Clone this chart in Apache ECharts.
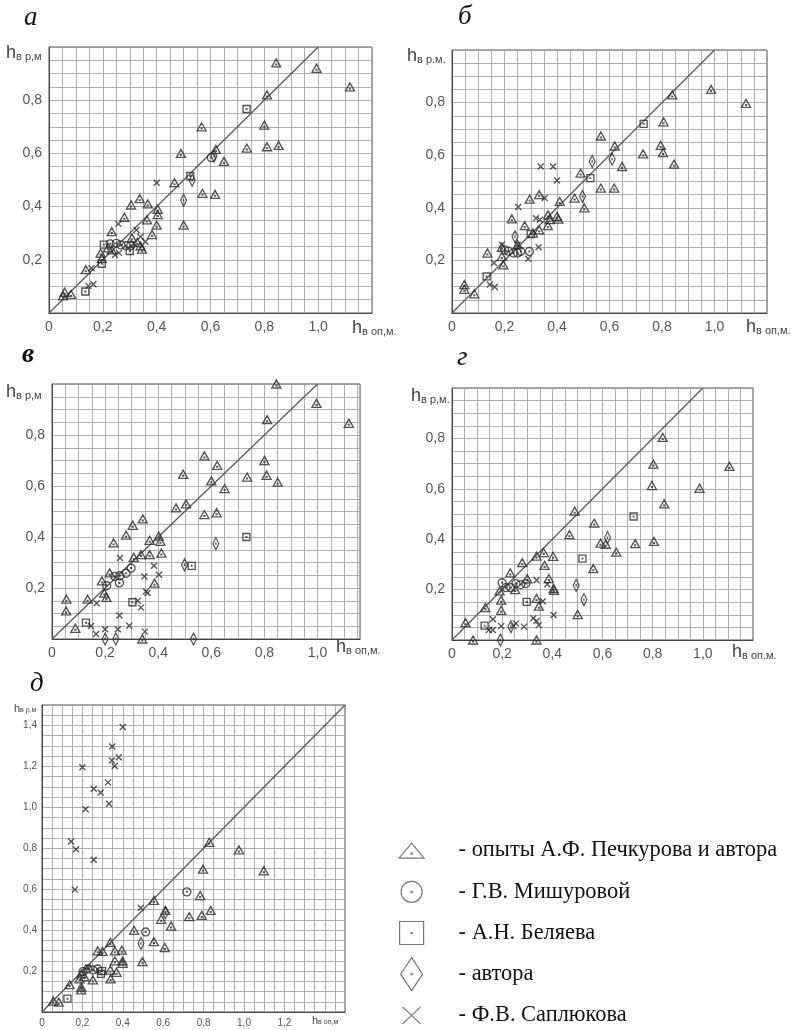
<!DOCTYPE html>
<html><head><meta charset="utf-8">
<script src="https://cdn.jsdelivr.net/npm/echarts@6/dist/echarts.min.js"></script>
<style>html,body{margin:0;padding:0;background:#fff}#c{width:793px;height:1030px}</style>
</head><body><div id="c"></div>
<script>
// ---------- series names ----------
const seriesNames = ['опыты А.Ф. Печкурова и автора', 'Г.В. Мишуровой', 'А.Н. Беляева', 'автора', 'Ф.В. Саплюкова'];

// ---------- panel а ----------
const aTri = [[0.844,0.94],[0.994,0.92],[1.118,0.85],[0.81,0.82],[0.567,0.70],[0.80,0.706],[0.735,0.62],[0.81,0.625],[0.853,0.63],[0.49,0.60],[0.62,0.615],[0.65,0.57],[0.466,0.49],[0.57,0.45],[0.617,0.446],[0.50,0.33],[0.337,0.43],[0.305,0.406],[0.367,0.41],[0.404,0.39],[0.404,0.37],[0.40,0.33],[0.364,0.35],[0.383,0.295],[0.28,0.36],[0.233,0.306],[0.345,0.24],[0.34,0.252],[0.308,0.282],[0.137,0.163],[0.058,0.078],[0.082,0.07],[0.052,0.064],[0.192,0.225],[0.196,0.205],[0.233,0.237],[0.22,0.245],[0.328,0.265]];
const aCir = [[0.227,0.26],[0.25,0.262],[0.267,0.256],[0.286,0.253],[0.304,0.253],[0.603,0.584]];
const aSq = [[0.204,0.257],[0.30,0.233],[0.135,0.081],[0.734,0.767],[0.525,0.515],[0.196,0.185]];
const aDia = [[0.50,0.424],[0.532,0.499],[0.613,0.59]];
const aCross = [[0.40,0.49],[0.258,0.335],[0.325,0.312],[0.158,0.168],[0.146,0.102],[0.165,0.108],[0.245,0.218],[0.26,0.226],[0.358,0.268],[0.34,0.287],[0.315,0.262]];

// ---------- panel б ----------
const bTri = [[0.987,0.85],[1.12,0.797],[0.839,0.829],[0.806,0.727],[0.567,0.673],[0.795,0.637],[0.804,0.61],[0.728,0.605],[0.846,0.566],[0.62,0.635],[0.648,0.557],[0.567,0.475],[0.618,0.475],[0.49,0.532],[0.467,0.437],[0.504,0.40],[0.41,0.424],[0.296,0.433],[0.332,0.45],[0.228,0.358],[0.277,0.332],[0.365,0.332],[0.332,0.316],[0.40,0.367],[0.405,0.357],[0.372,0.355],[0.366,0.373],[0.135,0.228],[0.19,0.25],[0.19,0.215],[0.196,0.183],[0.047,0.108],[0.047,0.09],[0.085,0.073],[0.308,0.304],[0.25,0.26]];
const bCir = [[0.2,0.24],[0.215,0.235],[0.234,0.228],[0.25,0.228],[0.262,0.234],[0.295,0.234]];
const bSq = [[0.527,0.513],[0.73,0.719],[0.30,0.30],[0.132,0.139]];
const bDia = [[0.534,0.576],[0.497,0.443],[0.24,0.29],[0.61,0.585]];
const bCross = [[0.338,0.557],[0.385,0.557],[0.40,0.504],[0.252,0.403],[0.353,0.437],[0.32,0.36],[0.335,0.355],[0.33,0.25],[0.29,0.206],[0.19,0.26],[0.16,0.19],[0.144,0.108],[0.163,0.099],[0.25,0.26]];

// ---------- panel в ----------
const vTri = [[0.845,1.0],[0.996,0.924],[1.118,0.846],[0.81,0.86],[0.574,0.718],[0.622,0.681],[0.80,0.70],[0.735,0.635],[0.808,0.642],[0.85,0.615],[0.60,0.62],[0.494,0.646],[0.65,0.59],[0.467,0.514],[0.505,0.53],[0.574,0.488],[0.62,0.495],[0.342,0.471],[0.304,0.446],[0.279,0.407],[0.232,0.377],[0.368,0.387],[0.402,0.403],[0.408,0.383],[0.368,0.331],[0.335,0.331],[0.412,0.337],[0.308,0.32],[0.386,0.219],[0.217,0.259],[0.188,0.228],[0.197,0.18],[0.205,0.163],[0.054,0.156],[0.053,0.11],[0.134,0.156],[0.088,0.042],[0.34,0.0]];
const vCir = [[0.298,0.278],[0.279,0.258],[0.256,0.248],[0.237,0.245],[0.254,0.22],[0.206,0.209]];
const vSq = [[0.303,0.144],[0.128,0.064],[0.526,0.287],[0.732,0.40]];
const vDia = [[0.617,0.374],[0.499,0.291],[0.2,0.0],[0.24,0.0],[0.533,0.0]];
const vCross = [[0.256,0.318],[0.384,0.287],[0.403,0.252],[0.348,0.245],[0.354,0.186],[0.36,0.18],[0.323,0.15],[0.335,0.123],[0.254,0.092],[0.291,0.052],[0.248,0.038],[0.2,0.038],[0.166,0.02],[0.147,0.051],[0.168,0.14],[0.35,0.029]];

// ---------- panel г ----------
const gTri = [[0.84,0.804],[0.803,0.698],[1.106,0.689],[0.797,0.613],[0.987,0.602],[0.846,0.54],[0.489,0.511],[0.567,0.464],[0.468,0.418],[0.592,0.384],[0.613,0.38],[0.73,0.382],[0.805,0.391],[0.655,0.349],[0.563,0.283],[0.366,0.347],[0.337,0.333],[0.403,0.332],[0.369,0.296],[0.28,0.307],[0.232,0.266],[0.30,0.243],[0.386,0.244],[0.405,0.204],[0.407,0.197],[0.19,0.195],[0.252,0.20],[0.337,0.165],[0.346,0.134],[0.196,0.158],[0.196,0.118],[0.133,0.129],[0.501,0.101],[0.054,0.069],[0.084,0.0],[0.337,0.0]];
const gCir = [[0.2,0.227],[0.215,0.208],[0.235,0.208],[0.255,0.224],[0.274,0.22],[0.294,0.224]];
const gSq = [[0.724,0.49],[0.52,0.323],[0.298,0.151],[0.13,0.057]];
const gDia = [[0.62,0.406],[0.495,0.217],[0.526,0.16],[0.235,0.053],[0.193,0.0]];
const gCross = [[0.337,0.237],[0.38,0.221],[0.362,0.154],[0.405,0.099],[0.147,0.04],[0.163,0.04],[0.163,0.082],[0.196,0.055],[0.245,0.055],[0.255,0.066],[0.287,0.053],[0.324,0.086],[0.337,0.075],[0.346,0.059]];

// ---------- panel д ----------
const dTri = [[0.975,0.792],[1.098,0.69],[0.797,0.698],[0.828,0.829],[0.783,0.569],[0.835,0.496],[0.791,0.472],[0.729,0.466],[0.554,0.545],[0.611,0.496],[0.59,0.453],[0.639,0.42],[0.456,0.399],[0.554,0.344],[0.608,0.315],[0.497,0.246],[0.338,0.34],[0.276,0.299],[0.299,0.296],[0.361,0.299],[0.395,0.302],[0.361,0.25],[0.399,0.25],[0.399,0.238],[0.338,0.205],[0.369,0.194],[0.34,0.162],[0.252,0.157],[0.186,0.162],[0.194,0.121],[0.194,0.108],[0.137,0.134],[0.056,0.053],[0.083,0.048],[0.194,0.186],[0.21,0.173]];
const dCir = [[0.717,0.587],[0.513,0.391],[0.203,0.197],[0.227,0.21],[0.252,0.205],[0.276,0.21]];
const dSq = [[0.126,0.065],[0.297,0.2],[0.292,0.186]];
const dDia = [[0.49,0.335],[0.611,0.485]];
const dCross = [[0.40,1.393],[0.348,1.297],[0.38,1.245],[0.346,1.229],[0.36,1.202],[0.20,1.196],[0.327,1.122],[0.256,1.091],[0.29,1.072],[0.332,1.018],[0.216,0.991],[0.144,0.833],[0.168,0.795],[0.256,0.744],[0.163,0.598],[0.227,0.218],[0.489,0.509]];

// ---------- reference line y = x ----------
const diag = [[0, 0], [1.0, 1.0]];
const diagD = [[0, 0], [1.5, 1.5]];

// ---------- axis ranges / tick labels ----------
const xMaxes = [1.2, 1.2, 1.16, 1.2, 1.5];
const yMaxes = [1.0, 1.0, 1.0, 1.0, 1.5];
const xLabelMax = [1.0, 1.0, 1.0, 1.0, 1.2];
const yLabelMax = [0.8, 0.8, 0.8, 0.8, 1.4];
const gridStep = 0.05;
const labelStep = 0.2;
const panelLetters = ['а', 'б', 'в', 'г', 'д'];
const yNames = ['в р,м', 'в р.м.', 'в р,м', 'в р,м.', 'в р,м'];
const xNames = ['в оп,м.', 'в оп,м.', 'в оп,м.', 'в оп.м.', 'в оп,м'];

const panelData = [
  [aTri, aCir, aSq, aDia, aCross],
  [bTri, bCir, bSq, bDia, bCross],
  [vTri, vCir, vSq, vDia, vCross],
  [gTri, gCir, gSq, gDia, gCross],
  [dTri, dCir, dSq, dDia, dCross]
];
const panelDiag = [diag, diag, diag, diag, diagD];

// ---------- layout (pixels) ----------
const grids = [
  {left: 49, top: 47, width: 323, height: 266},
  {left: 452, top: 50, width: 315, height: 263},
  {left: 52, top: 384, width: 308, height: 255},
  {left: 452, top: 388, width: 301, height: 252},
  {left: 42, top: 705, width: 303, height: 307}
];
const letterPos = [[24, 4], [458, 3], [22, 342], [457, 344], [30, 670]];
const yNamePos = [[6, 44], [407, 47], [6, 383], [411, 387], [14, 703]];
const xNamePos = [[352, 319], [746, 318], [336, 638], [732, 643], [312, 1015]];

// ---------- symbols ----------
const dot = ' M4.6,4.6 L5.4,4.6 L5.4,5.4 L4.6,5.4 Z';
const symTri = 'path://M0,9 L5,0 L10,9 Z M4.6,5.8 L5.4,5.8 L5.4,6.6 L4.6,6.6 Z';
const symCir = 'path://M5,0 A5,5 0 1,1 4.99,0 Z' + dot;
const symSq = 'path://M0,0 L10,0 L10,10 L0,10 Z' + dot;
const symDia = 'path://M5,0 L10,10 L5,20 L0,10 Z M4.6,9.6 L5.4,9.6 L5.4,10.4 L4.6,10.4 Z';
const symCross = 'path://M0,0 L10,10 M10,0 L0,10';
const symbols = [symTri, symCir, symSq, symDia, symCross];
const symSizes = [[9, 8], 8, 7, [6, 12], 6];
// legend icons drawn in a common 34x34 box (zero-length corner strokes fix the box)
const box = 'M0,0 L0,0 M34,34 L34,34 ';
const legendIcons = [
  'path://' + box + 'M4.5,24.5 L17,9.5 L29.5,24.5 Z M16.5,19.5 L17.5,19.5 L17.5,20.5 L16.5,20.5 Z',
  'path://' + box + 'M17,6.5 A10.5,10.5 0 1,1 16.99,6.5 Z M16.5,16.5 L17.5,16.5 L17.5,17.5 L16.5,17.5 Z',
  'path://' + box + 'M5,5.5 L29,5.5 L29,28.5 L5,28.5 Z M16.5,16.5 L17.5,16.5 L17.5,17.5 L16.5,17.5 Z',
  'path://' + box + 'M17,0.5 L28,17 L17,33.5 L6,17 Z M16.5,16.5 L17.5,16.5 L17.5,17.5 L16.5,17.5 Z',
  'path://' + box + 'M8,8.5 L26,25.5 M26,8.5 L8,25.5'
];

function fmtLabel(v, maxLab, skipZero) {
  const k = Math.round(v * 100);
  if (k % Math.round(labelStep * 100) !== 0) return '';
  if (v > maxLab + 1e-9) return '';
  if (k === 0) return skipZero ? '' : '0';
  return (k / 100).toFixed(1).replace('.', ',');
}

const option = {
  backgroundColor: '#fff',
  animation: false,
  grid: [], xAxis: [], yAxis: [], series: [], graphic: [],
  legend: {
    orient: 'vertical', left: 394, top: 833, height: 240, padding: 0,
    itemWidth: 84, itemHeight: 34, itemGap: 6,
    selectedMode: false,
    textStyle: {fontFamily: 'Liberation Serif', fontSize: 22.4, color: '#111', lineHeight: 24},
    formatter: n => '- ' + n,
    data: seriesNames.map((n, i) => ({
      name: n, icon: legendIcons[i],
      itemStyle: {color: 'transparent', borderColor: '#555', borderWidth: 1.2}
    }))
  }
};

for (let p = 0; p < 5; p++) {
  const small = p === 4;
  option.grid.push(Object.assign({show: true, borderColor: '#555', borderWidth: 1, containLabel: false}, grids[p]));
  option.xAxis.push({
    type: 'value', gridIndex: p, min: 0, max: xMaxes[p], interval: gridStep,
    axisLine: {show: true, lineStyle: {color: '#444', width: 1}},
    axisTick: {show: false},
    axisLabel: {
      formatter: v => fmtLabel(v, xLabelMax[p], false),
      color: '#555', fontFamily: 'Liberation Sans', fontSize: small ? 10 : 14, margin: small ? 6 : 7,
      showMaxLabel: false
    },
    splitLine: {show: true, lineStyle: {color: '#9c9c9c', width: 0.8}}
  });
  option.yAxis.push({
    type: 'value', gridIndex: p, min: 0, max: yMaxes[p], interval: gridStep,
    axisLine: {show: true, lineStyle: {color: '#444', width: 1}},
    axisTick: {show: false},
    axisLabel: {
      formatter: v => fmtLabel(v, yLabelMax[p], true),
      color: '#555', fontFamily: 'Liberation Sans', fontSize: small ? 10 : 14, margin: small ? 5 : 7,
      showMaxLabel: false
    },
    splitLine: {show: true, lineStyle: {color: '#9c9c9c', width: 0.8}}
  });
  option.series.push({
    type: 'line', xAxisIndex: p, yAxisIndex: p, data: panelDiag[p],
    symbol: 'none', silent: true,
    lineStyle: {color: '#555', width: 1.2}
  });
  panelData[p].forEach((d, s) => {
    option.series.push({
      type: 'scatter', name: seriesNames[s], xAxisIndex: p, yAxisIndex: p, data: d,
      symbol: symbols[s], symbolSize: symSizes[s], clip: false,
      itemStyle: {color: 'transparent', borderColor: '#2a2a2a', borderWidth: 1.35},
      z: 3
    });
  });
  option.graphic.push({
    type: 'text', left: letterPos[p][0], top: letterPos[p][1],
    style: {text: panelLetters[p], font: (p === 2 ? 'bold ' : '') + 'italic 27px "Liberation Serif"', fill: '#111'}
  });
  option.graphic.push({
    type: 'text', left: yNamePos[p][0], top: yNamePos[p][1],
    style: {
      text: '{h|h}{s|' + yNames[p] + '}',
      rich: {
        h: {fontFamily: 'Liberation Sans', fontSize: small ? 11 : 18, fill: '#444', verticalAlign: 'bottom'},
        s: {fontFamily: 'Liberation Sans', fontSize: small ? 7 : 11, fill: '#444', verticalAlign: 'bottom'}
      }
    }
  });
  option.graphic.push({
    type: 'text', left: xNamePos[p][0], top: xNamePos[p][1],
    style: {
      text: '{h|h}{s|' + xNames[p] + '}',
      rich: {
        h: {fontFamily: 'Liberation Sans', fontSize: small ? 11 : 18, fill: '#444', verticalAlign: 'bottom'},
        s: {fontFamily: 'Liberation Sans', fontSize: small ? 7 : 11, fill: '#444', verticalAlign: 'bottom'}
      }
    }
  });
}

const chart = echarts.init(document.getElementById('c'), null, {renderer: 'canvas'});
chart.setOption(option);
</script>
</body></html>
